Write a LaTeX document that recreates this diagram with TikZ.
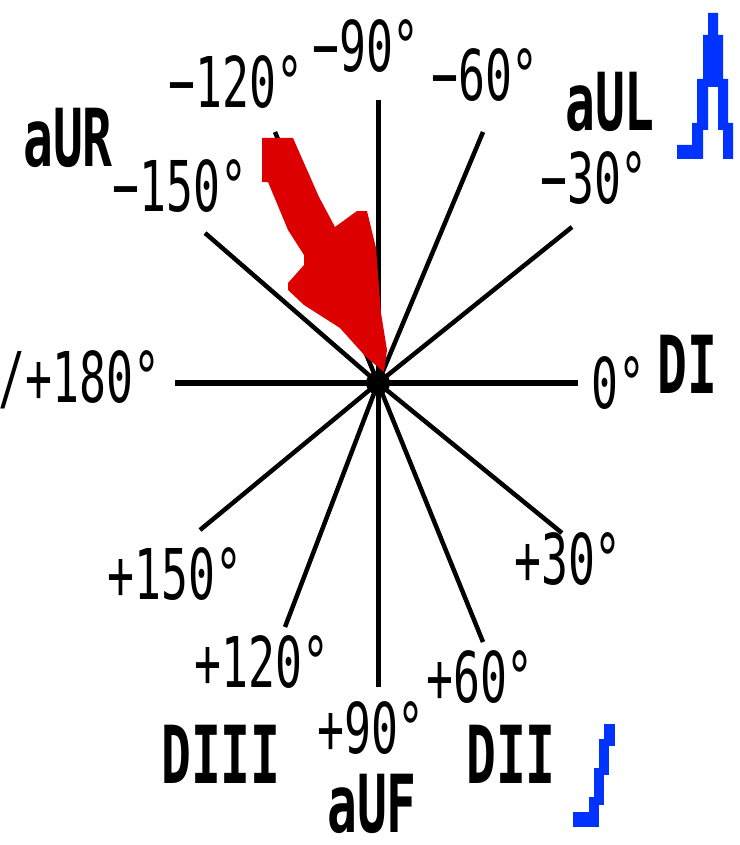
\documentclass[tikz,border=0pt]{standalone}
\usepackage{fontspec}
\newfontfamily\pixfont[FakeStretch=0.64]{DejaVu Sans Mono}
\newfontfamily\leadfont[FakeStretch=0.62]{DejaVu Sans Mono}
\usepackage{tikz}
\usepackage{xcolor}
\definecolor{vectorred}{RGB}{221,0,0}
\definecolor{markblue}{RGB}{0,51,255}

\begin{document}
\begin{tikzpicture}[
  x=1pt, y=-1pt,
  angle/.style={font=\pixfont\fontsize{70}{70}\selectfont, inner sep=0pt, anchor=base},
  lead/.style={font=\leadfont\bfseries\fontsize{80}{80}\selectfont, inner sep=0pt, anchor=base},
  spoke/.style={line width=4.5pt},
  axis/.style={line width=6pt}
]
\useasboundingbox (0,0) rectangle (739,845);

\coordinate (O) at (378,383);
\coordinate (e0) at (578,383);
\coordinate (e180) at (175,383);
\coordinate (em90) at (378,100);
\coordinate (ep90) at (378,687);
\coordinate (em30) at (572,227);
\coordinate (em60) at (483,132);
\coordinate (em120) at (275,132);
\coordinate (em150) at (205,233);
\coordinate (ep30) at (562,533);
\coordinate (ep60) at (483,642);
\coordinate (ep120) at (285,627);
\coordinate (ep150) at (200,530);

\draw[axis] (e180) -- (e0);
\draw[axis, line width=5pt] (em90) -- (ep90);
\foreach \e in {em30,em60,em120,em150,ep30,ep60,ep120,ep150}
  \draw[spoke] (O) -- (\e);

\fill[vectorred] (262,138) -- (293,138) -- (319,197) -- (335,227) -- (357,211)
  -- (367,211) -- (376,248) -- (381,313) -- (387,350) -- (384,372) -- (366,357)
  -- (340,328) -- (304,305) -- (288,290) -- (288,283) -- (304,265) -- (304,255)
  -- (288,230) -- (268,182) -- (262,182) -- cycle;

\fill (O) circle (12);

\fill[markblue] (677,159) -- (677,145) -- (692,145) -- (692,123) -- (697,123)
  -- (697,79) -- (703,79) -- (703,35) -- (708,35) -- (708,13) -- (718,13)
  -- (718,35) -- (723,35) -- (723,79) -- (728,79) -- (728,123) -- (733,123)
  -- (733,159) -- (723,159) -- (723,130) -- (718,130) -- (718,87) -- (708,87)
  -- (708,130) -- (703,130) -- (703,159) -- cycle;
\fill[markblue] (604,724) rectangle (615,746);
\fill[markblue] (599,739) rectangle (609,775);
\fill[markblue] (594,768) rectangle (604,805);
\fill[markblue] (589,797) rectangle (599,827);
\fill[markblue] (573,812) rectangle (599,827);

\node[angle] (lm90) at (366,72) {−90°};
\node[angle] (lm120) at (236,108) {−120°};
\node[angle] (lm60) at (485,101) {−60°};
\node[angle] (lm150) at (180,211) {−150°};
\node[angle] (lm30) at (594,204) {−30°};
\node[angle, anchor=base east] (l180) at (161,402) {/+180°};
\node[angle] (l0) at (618,408) {0°};
\node[angle] (lp30) at (568,584) {+30°};
\node[angle] (lp150) at (175,599) {+150°};
\node[angle] (lp120) at (262,687) {+120°};
\node[angle] (lp60) at (480,702) {+60°};
\node[angle] (lp90) at (371,753) {+90°};

\node[lead] (aUL) at (610,131) {aUL};
\node[lead] (aUR) at (68,167) {aUR};
\node[lead] (DI) at (687,393) {DI};
\node[lead] (DIII) at (221,783) {DIII};
\node[lead] (DII) at (511,783) {DII};
\node[lead] (aUF) at (372,832) {aUF};

\end{tikzpicture}
\end{document}
